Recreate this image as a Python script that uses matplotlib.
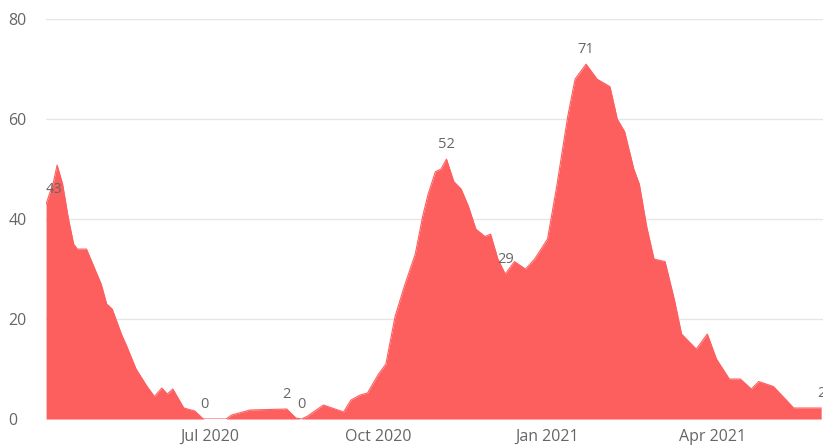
import matplotlib
matplotlib.use("Agg")
import matplotlib.pyplot as plt
import pandas as pd

plt.rcParams['font.family'] = ['Open Sans', 'DejaVu Sans']

##-----------------------------
## data
##-----------------------------
dates = ["2020-04-03", "2020-04-07", "2020-04-09", "2020-04-12", "2020-04-15",
         "2020-04-18", "2020-04-20", "2020-04-25", "2020-04-29", "2020-05-03",
         "2020-05-06", "2020-05-09", "2020-05-14", "2020-05-17", "2020-05-22",
         "2020-05-28", "2020-06-01", "2020-06-05", "2020-06-08", "2020-06-11",
         "2020-06-17", "2020-06-23", "2020-06-27", "2020-06-28", "2020-07-10",
         "2020-07-13", "2020-07-23", "2020-08-12", "2020-08-17", "2020-08-20",
         "2020-08-23", "2020-09-01", "2020-09-12", "2020-09-16", "2020-09-21",
         "2020-09-25", "2020-10-01", "2020-10-05", "2020-10-10", "2020-10-15",
         "2020-10-21", "2020-10-25", "2020-10-28", "2020-11-01", "2020-11-04",
         "2020-11-07", "2020-11-11", "2020-11-15", "2020-11-19", "2020-11-23",
         "2020-11-28", "2020-12-01", "2020-12-05", "2020-12-09", "2020-12-14",
         "2020-12-20", "2020-12-25", "2021-01-01", "2021-01-06", "2021-01-12",
         "2021-01-16", "2021-01-22", "2021-01-28", "2021-02-04", "2021-02-08",
         "2021-02-12", "2021-02-17", "2021-02-20", "2021-02-24", "2021-02-28",
         "2021-03-06", "2021-03-11", "2021-03-15", "2021-03-23", "2021-03-29",
         "2021-04-03", "2021-04-10", "2021-04-16", "2021-04-22", "2021-04-26",
         "2021-05-04", "2021-05-11", "2021-05-15", "2021-05-30"]
values = [43, 47.4, 50.8, 47, 40.4,
          35, 34, 34, 30.5, 27,
          23, 22, 17, 14.5, 10,
          6.5, 4.5, 6.2, 5, 6,
          2.2, 1.6, 0.2, 0, 0,
          0.8, 1.8, 2, 0.2, 0,
          0.5, 2.8, 1.4, 3.8, 4.8,
          5.2, 9, 11, 20.5, 26.5,
          33, 40.5, 45, 49.5, 50,
          52, 47.5, 46, 42.5, 38,
          36.5, 37, 32, 29, 31.5,
          30, 32, 36, 46.5, 60.5,
          68, 71, 68, 66.5, 60,
          57.5, 50, 47, 38.5, 32,
          31.5, 24, 17, 14, 17,
          12, 8, 8, 6, 7.5,
          6.5, 3.8, 2.2, 2.2]

# points that carry a data label
label_dates = ["2020-04-03", "2020-06-28", "2020-08-12", "2020-08-20",
               "2020-11-07", "2020-12-09", "2021-01-22", "2021-05-30"]
label_texts = ["43", "0", "2", "0", "52", "29", "71", "2"]

tick_dates = ["2020-07-01", "2020-10-01", "2021-01-01", "2021-04-01"]
tick_texts = ["Jul 2020", "Oct 2020", "Jan 2021", "Apr 2021"]

df = pd.DataFrame({"date": pd.to_datetime(dates), "value": values})
lookup = dict(zip(df.date, df.value))

##-----------------------------
## plot
##-----------------------------
fig = plt.figure(figsize=(8.23, 4.46), dpi=100)
ax = fig.add_axes([0.056, 0.0605, 0.944, 0.8965])

ax.fill_between(df.date, 0, df.value, color="#FD5E5E", linewidth=0, zorder=2)
ax.plot(df.date, df.value, color="#FD5E5E", linewidth=0.8, zorder=2)

for i, (d, t) in enumerate(zip(label_dates, label_texts)):
    d = pd.Timestamp(d)
    ha = "left" if i == 0 else "center"
    ax.annotate(t, (d, lookup[d]), xytext=(0, 5), textcoords="offset points",
                ha=ha, va="bottom", fontsize=10.5, color="#666666", zorder=3,
                annotation_clip=False)

ax.set_ylim(0, 80)
ax.set_yticks([0, 20, 40, 60, 80])
ax.set_xlim(pd.Timestamp("2020-04-03"), pd.Timestamp("2021-05-31"))
ax.set_xticks(pd.to_datetime(tick_dates))
ax.set_xticklabels(tick_texts)

ax.grid(axis="y", color="#E6E6E6", linewidth=1, zorder=0)
for s in ax.spines.values():
    s.set_visible(False)
ax.tick_params(axis="both", length=0, labelsize=11.5, labelcolor="#666666")
ax.tick_params(axis="y", pad=27)
for lab in ax.get_yticklabels():
    lab.set_horizontalalignment("left")
ax.tick_params(axis="x", pad=7)

plt.savefig("out.png", dpi=100)
